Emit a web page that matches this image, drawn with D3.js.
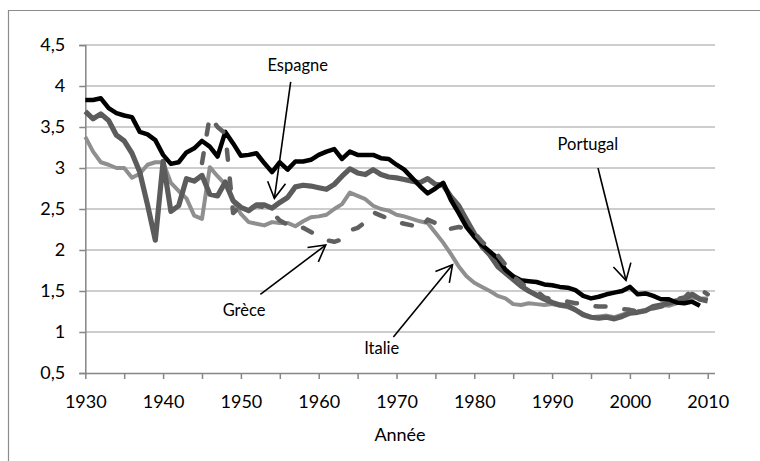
<!DOCTYPE html>
<html>
<head>
<meta charset="utf-8">
<script src="https://cdn.jsdelivr.net/npm/d3@7"></script>
<style>
  body { margin: 0; background: #fff; }
  svg { display: block; font-family: Lato, "Open Sans", sans-serif; }
</style>
</head>
<body>
<div id="chart"></div>
<script>
// indice de fécondité, 1930-2010 (Europe du Sud)
const firstYear = 1930;

const portugal = [
  3.83, 3.83, 3.85, 3.73, 3.67, 3.64, 3.62, 3.44, 3.41, 3.34,
  3.16, 3.05, 3.07, 3.19, 3.24, 3.33, 3.26, 3.14, 3.44, 3.30,
  3.15, 3.16, 3.18, 3.06, 2.95, 3.07, 2.98, 3.08, 3.08, 3.10,
  3.16, 3.20, 3.23, 3.11, 3.20, 3.16, 3.16, 3.16, 3.12, 3.11,
  3.04, 2.98, 2.88, 2.78, 2.69, 2.75, 2.82, 2.61, 2.45, 2.28,
  2.16, 2.06, 1.98, 1.90, 1.76, 1.68, 1.63, 1.62, 1.61, 1.58,
  1.57, 1.55, 1.54, 1.51, 1.44, 1.41, 1.43, 1.46, 1.48, 1.50,
  1.55, 1.46, 1.47, 1.44, 1.40, 1.40, 1.36, 1.35, 1.37, 1.32
];

const espagne = [
  3.69, 3.60, 3.66, 3.58, 3.40, 3.33, 3.18, 2.95, 2.55, 2.12,
  3.08, 2.47, 2.54, 2.87, 2.84, 2.91, 2.68, 2.66, 2.83, 2.60,
  2.52, 2.48, 2.55, 2.55, 2.51, 2.58, 2.64, 2.77, 2.79, 2.78,
  2.76, 2.74, 2.80, 2.90, 2.99, 2.94, 2.92, 2.98, 2.92, 2.89,
  2.88, 2.86, 2.84, 2.82, 2.87, 2.80, 2.79, 2.65, 2.54, 2.37,
  2.20, 2.04, 1.94, 1.80, 1.72, 1.64, 1.56, 1.50, 1.45, 1.40,
  1.36, 1.33, 1.32, 1.27, 1.21, 1.18, 1.17, 1.18, 1.16, 1.19,
  1.23, 1.24, 1.26, 1.31, 1.33, 1.35, 1.38, 1.40, 1.46, 1.40, 1.38
];

const italie = [
  3.38, 3.20, 3.07, 3.04, 3.00, 3.00, 2.88, 2.93, 3.04, 3.07,
  3.07, 2.82, 2.72, 2.63, 2.42, 2.38, 3.01, 2.90, 2.80, 2.60,
  2.44, 2.34, 2.32, 2.30, 2.34, 2.33, 2.33, 2.29, 2.35, 2.40,
  2.41, 2.43, 2.50, 2.56, 2.70, 2.66, 2.62, 2.54, 2.50, 2.48,
  2.43, 2.41, 2.38, 2.35, 2.33, 2.21, 2.09, 1.95, 1.80, 1.68,
  1.60, 1.55, 1.50, 1.44, 1.41, 1.34, 1.33, 1.35, 1.34, 1.33,
  1.34, 1.32, 1.30, 1.27, 1.22, 1.18, 1.19, 1.20, 1.18, 1.21,
  1.24, 1.25, 1.27, 1.29, 1.33, 1.32, 1.35, 1.37, 1.42, 1.41, 1.41
];

const grece = [
  null, null, null, null, null, null, null, null, null, null,
  null, null, null, null, null, 3.06, 3.63, 3.50, 3.42, 2.45,
  2.54, 2.50, 2.54, 2.52, 2.46, 2.36, 2.31, 2.26, 2.27, 2.22,
  2.17, 2.12, 2.10, 2.13, 2.24, 2.27, 2.34, 2.46, 2.42, 2.38,
  2.34, 2.32, 2.30, 2.25, 2.37, 2.33, 2.34, 2.26, 2.28, 2.26,
  2.21, 2.10, 2.02, 1.94, 1.82, 1.68, 1.60, 1.52, 1.50, 1.42,
  1.40, 1.39, 1.37, 1.35, 1.35, 1.32, 1.31, 1.31, 1.30, 1.28,
  1.27, 1.25, 1.27, 1.29, 1.31, 1.34, 1.40, 1.42, 1.51, 1.52, 1.46
];

const yTicks = [0.5, 1, 1.5, 2, 2.5, 3, 3.5, 4, 4.5];
const xTicks = [1930, 1935, 1940, 1945, 1950, 1955, 1960, 1965, 1970, 1975,
                1980, 1985, 1990, 1995, 2000, 2005, 2010];

// annotation: label, text anchor (year, value), arrow start and tip (year, value)
const notes = [
  { label: "Espagne",  text: [1957.3, 4.18], from: [1956.4, 4.05], to: [1954.3, 2.63] },
  { label: "Portugal", text: [1994.6, 3.22], from: [1995.9, 3.00], to: [1999.5, 1.63] },
  { label: "Grèce",    text: [1950.4, 1.20], from: [1952.5, 1.46], to: [1960.9, 2.06] },
  { label: "Italie",   text: [1968.1, 0.73], from: [1969.6, 0.94], to: [1977.2, 1.82] }
];

const width = 760, height = 461;
const plot = { left: 85.3, right: 707.7, top: 45, bottom: 373, gridEnd: 715 };

const svg = d3.select("#chart").append("svg")
  .attr("width", width)
  .attr("height", height);

// cadre du graphique
svg.append("path")
  .attr("d", "M8.5,470 V10.5 H770")
  .attr("fill", "none")
  .attr("stroke", "#8c8c8c")
  .attr("stroke-width", 1.2);

const x = d3.scaleLinear().domain([1930, 2010]).range([plot.left, plot.right]);
const y = d3.scaleLinear().domain([0.5, 4.5]).range([plot.bottom, plot.top]);

// grille horizontale
svg.append("g")
  .selectAll("line")
  .data(yTicks.slice(1))
  .enter()
  .append("line")
  .attr("x1", plot.left)
  .attr("x2", plot.gridEnd)
  .attr("y1", d => y(d))
  .attr("y2", d => y(d))
  .attr("stroke", "#bdbdbd")
  .attr("stroke-width", 1.5);

const fr = d3.formatLocale({ decimal: ",", thousands: "\u00a0", grouping: [3], currency: ["", " €"] });

const yAxis = svg.append("g")
  .attr("transform", `translate(${plot.left},0)`)
  .call(d3.axisLeft(y).tickValues(yTicks).tickSize(6).tickPadding(14).tickFormat(fr.format("~g")));

const xAxis = svg.append("g")
  .attr("transform", `translate(0,${plot.bottom})`)
  .call(d3.axisBottom(x).tickValues(xTicks).tickSize(6).tickPadding(16)
    .tickFormat(d => d % 10 === 0 ? String(d) : ""));

xAxis.select(".domain").attr("d", `M${plot.left},0.5H${plot.gridEnd}`);

[xAxis, yAxis].forEach(g => {
  g.select(".domain").attr("stroke", "#868686").attr("stroke-width", 1.5);
  g.selectAll(".tick line").attr("stroke", "#868686").attr("stroke-width", 1.5);
  g.selectAll(".tick text").attr("font-size", 18).attr("fill", "#000")
    .attr("font-family", "Lato, 'Open Sans', sans-serif");
});

svg.append("text")
  .attr("x", 400)
  .attr("y", 441)
  .attr("text-anchor", "middle")
  .attr("font-size", 18)
  .text("Année");

// séries
const series = [
  { values: italie,   color: "#8f8f8f", width: 4,   dash: null },
  { values: espagne,  color: "#5c5c5c", width: 5.2, dash: null },
  { values: portugal, color: "#000000", width: 4.5, dash: null },
  { values: grece,    color: "#606060", width: 4.5, dash: "10,19" }
];

const line = d3.line()
  .defined(d => d != null)
  .x((d, i) => x(firstYear + i))
  .y(d => y(d));

svg.append("g")
  .selectAll("path")
  .data(series)
  .enter()
  .append("path")
  .attr("d", d => line(d.values))
  .attr("fill", "none")
  .attr("stroke", d => d.color)
  .attr("stroke-width", d => d.width)
  .attr("stroke-linejoin", "round")
  .attr("stroke-linecap", d => d.dash ? "round" : "butt")
  .attr("stroke-dasharray", d => d.dash);

// flèches et étiquettes
svg.append("defs").append("marker")
  .attr("id", "tip")
  .attr("markerUnits", "userSpaceOnUse")
  .attr("viewBox", "-18 -11 20 22")
  .attr("markerWidth", 20)
  .attr("markerHeight", 22)
  .attr("refX", 0)
  .attr("refY", 0)
  .attr("orient", "auto")
  .append("path")
  .attr("d", "M-16,-9 L0,0 L-16,9")
  .attr("fill", "none")
  .attr("stroke", "#000")
  .attr("stroke-width", 1.6);

const ann = svg.append("g");

ann.selectAll("line")
  .data(notes)
  .enter()
  .append("line")
  .attr("x1", d => x(d.from[0]))
  .attr("y1", d => y(d.from[1]))
  .attr("x2", d => x(d.to[0]))
  .attr("y2", d => y(d.to[1]))
  .attr("stroke", "#000")
  .attr("stroke-width", 1.6)
  .attr("marker-end", "url(#tip)");

ann.selectAll("text")
  .data(notes)
  .enter()
  .append("text")
  .attr("x", d => x(d.text[0]))
  .attr("y", d => y(d.text[1]))
  .attr("text-anchor", "middle")
  .attr("font-size", 16.5)
  .attr("fill", "#000")
  .text(d => d.label);
</script>
</body>
</html>
